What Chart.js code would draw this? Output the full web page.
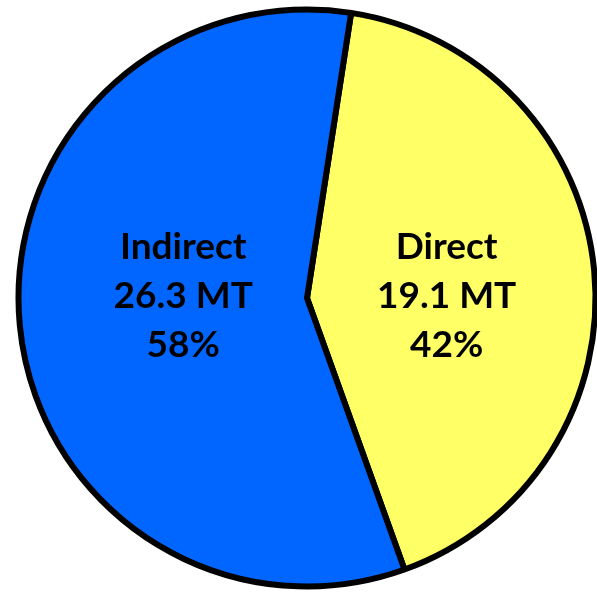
<!DOCTYPE html>
<html>
<head>
<meta charset="utf-8">
<script src="https://cdn.jsdelivr.net/npm/chart.js@4"></script>
<style>
  html, body { margin: 0; padding: 0; background: #ffffff; overflow: hidden; }
  body { width: 597px; height: 593px; position: relative; }
  #wrap { position: absolute; left: 7px; top: -2px; width: 600px; height: 600px; }
</style>
</head>
<body>
<div id="wrap"><canvas id="pie"></canvas></div>
<script>
// Emissions split (million tonnes)
const categories = ['Direct', 'Indirect'];
const values = [19.1, 26.3];
const unit = 'MT';
const sliceColors = ['#FFFF66', '#0066FF'];

const total = values.reduce((a, b) => a + b, 0);

// Writes category, amount and share inside each slice, on a shared row
const sliceLabels = {
  id: 'sliceLabels',
  afterDatasetsDraw(chart, args, opts) {
    const ctx = chart.ctx;
    const arcs = chart.getDatasetMeta(0).data;
    ctx.save();
    ctx.font = opts.font;
    ctx.fillStyle = '#000000';
    ctx.textAlign = 'center';
    ctx.textBaseline = 'alphabetic';
    arcs.forEach((arc, i) => {
      const p = arc.getProps(['x', 'y', 'startAngle', 'endAngle', 'outerRadius'], true);
      const mid = (p.startAngle + p.endAngle) / 2;
      const cx = p.x + Math.sign(Math.cos(mid)) * p.outerRadius * opts.distance[i];
      const cy = p.y + opts.baselineShift;
      const lines = [
        categories[i],
        values[i].toFixed(1) + ' ' + unit,
        Math.round(values[i] / total * 100) + '%'
      ];
      lines.forEach((t, k) => {
        ctx.fillText(t, cx, cy + (k - 1) * opts.lineHeight);
      });
    });
    ctx.restore();
  }
};

new Chart(document.getElementById('pie'), {
  type: 'pie',
  data: {
    labels: categories,
    datasets: [{
      data: values,
      backgroundColor: sliceColors,
      borderColor: '#000000',
      borderWidth: 6
    }]
  },
  options: {
    responsive: true,
    maintainAspectRatio: false,
    animation: false,
    rotation: 8.8,
    radius: 288.5,
    layout: { padding: 0 },
    plugins: {
      legend: { display: false },
      tooltip: { enabled: false },
      sliceLabels: {
        font: 'bold 37px Lato',
        lineHeight: 49,
        baselineShift: 10,
        distance: [0.484, 0.429]
      }
    }
  },
  plugins: [sliceLabels]
});
</script>
</body>
</html>
